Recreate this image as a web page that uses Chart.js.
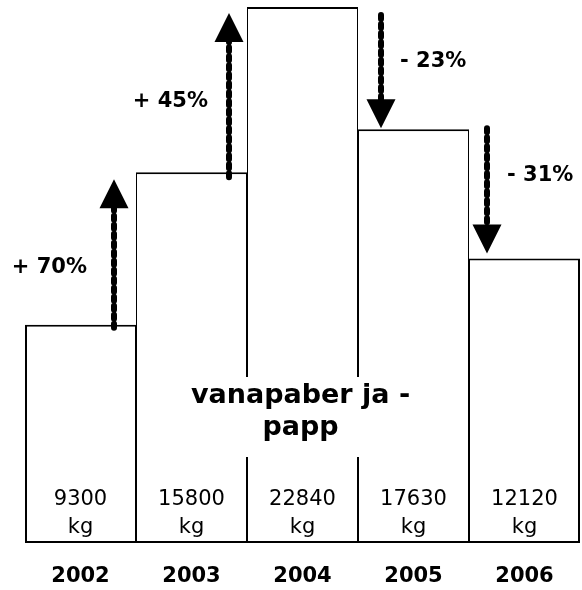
<!DOCTYPE html>
<html>
<head>
<meta charset="utf-8">
<script src="https://cdn.jsdelivr.net/npm/chart.js@4.4.1/dist/chart.umd.min.js"></script>
<style>
  html, body { margin: 0; padding: 0; background: #fff; }
  #wasteChart { display: block; }
</style>
</head>
<body>
<canvas id="wasteChart" width="582" height="590"></canvas>
<script>
// data
const years = ['2002', '2003', '2004', '2005', '2006'];
const amounts = [9300, 15800, 22840, 17630, 12120];
const unit = 'kg';
const changes = ['+ 70%', '+ 45%', '- 23%', '- 31%'];
const titleLines = ['vanapaber ja -', 'papp'];

const FONT = '"DejaVu Sans", Verdana, sans-serif';

// arrow placement relative to the boundary between two bars
const arrowLayout = [
    { dx: -22, startDy: 3, endDy: 7, labelDx: -27, labelDy: 88 },
    { dx: -18, startDy: 5, endDy: 6, labelDx: -21, labelDy: 89 },
    { dx: 23, startDy: 8, endDy: -1, labelDx: 19, labelDy: 47 },
    { dx: 18, startDy: -1, endDy: -5, labelDx: 20, labelDy: 47 }
];

const annotations = {
    id: 'annotations',
    afterDatasetsDraw(chart) {
        const ctx = chart.ctx;
        const meta = chart.getDatasetMeta(0);
        const yScale = chart.scales.y;
        const base = yScale.getPixelForValue(0);

        ctx.save();
        ctx.fillStyle = '#000';
        ctx.textAlign = 'center';
        ctx.textBaseline = 'alphabetic';

        // value labels inside bars
        ctx.font = '21px ' + FONT;
        meta.data.forEach((bar, i) => {
            ctx.fillText(String(amounts[i]), bar.x, base - 38);
            ctx.fillText(unit, bar.x, base - 10);
        });

        // title in the middle bar, on a white box
        const mid = meta.data[2];
        ctx.font = 'bold 27px ' + FONT;
        const w = Math.max(...titleLines.map(t => ctx.measureText(t).width));
        const y1 = base - 140;
        const y2 = y1 + 32;
        ctx.fillStyle = '#fff';
        ctx.fillRect(mid.x - w / 2 - 4, y1 - 26, w + 8, 80);
        ctx.fillStyle = '#000';
        ctx.fillText(titleLines[0], mid.x - 2, y1);
        ctx.fillText(titleLines[1], mid.x - 2, y2);

        // change arrows
        changes.forEach((label, i) => {
            const a = arrowLayout[i];
            const from = meta.data[i];
            const to = meta.data[i + 1];
            const boundary = (from.x + from.width / 2 + to.x - to.width / 2) / 2;
            const x = boundary + a.dx;
            const yFrom = yScale.getPixelForValue(amounts[i]);
            const yTo = yScale.getPixelForValue(amounts[i + 1]);
            const up = amounts[i + 1] > amounts[i];
            const start = yFrom + a.startDy;
            const tip = yTo + a.endDy;
            const headLen = 29;
            const headHalf = 14.5;
            const headBase = up ? tip + headLen : tip - headLen;

            ctx.strokeStyle = '#000';
            ctx.lineWidth = 6;
            ctx.lineCap = 'round';
            ctx.setLineDash([4, 5]);
            ctx.beginPath();
            ctx.moveTo(x, start);
            ctx.lineTo(x, headBase);
            ctx.stroke();
            ctx.setLineDash([]);

            ctx.beginPath();
            ctx.moveTo(x, tip);
            ctx.lineTo(x - headHalf, headBase);
            ctx.lineTo(x + headHalf, headBase);
            ctx.closePath();
            ctx.fill();

            ctx.font = 'bold 21px ' + FONT;
            ctx.textBaseline = 'middle';
            const top = Math.min(start, tip);
            ctx.textAlign = up ? 'right' : 'left';
            ctx.fillText(label, x + a.labelDx, top + a.labelDy);
            ctx.textBaseline = 'alphabetic';
            ctx.textAlign = 'center';
        });

        ctx.restore();
    }
};

const ctx = document.getElementById('wasteChart').getContext('2d');
new Chart(ctx, {
    type: 'bar',
    data: {
        labels: years,
        datasets: [{
            data: amounts,
            backgroundColor: '#fff',
            borderColor: '#000',
            borderWidth: (c) => ({
                top: 2,
                bottom: 2,
                left: c.dataIndex === 0 ? 2 : 1,
                right: c.dataIndex === amounts.length - 1 ? 2 : 1
            }),
            borderSkipped: false,
            inflateAmount: 0,
            barPercentage: 1,
            categoryPercentage: 1
        }]
    },
    options: {
        responsive: false,
        animation: false,
        devicePixelRatio: 1,
        layout: {
            padding: { left: 25, right: 2, top: 7, bottom: 0 }
        },
        plugins: {
            legend: { display: false },
            tooltip: { enabled: false }
        },
        scales: {
            x: {
                grid: { display: false, drawTicks: false },
                border: { display: false },
                ticks: {
                    color: '#000',
                    padding: 21,
                    font: { family: FONT, size: 21, weight: 'bold' }
                },
                afterFit(scale) {
                    scale.height = 47;
                }
            },
            y: {
                display: false,
                min: 0,
                max: Math.max(...amounts)
            }
        }
    },
    plugins: [annotations]
});
</script>
</body>
</html>
